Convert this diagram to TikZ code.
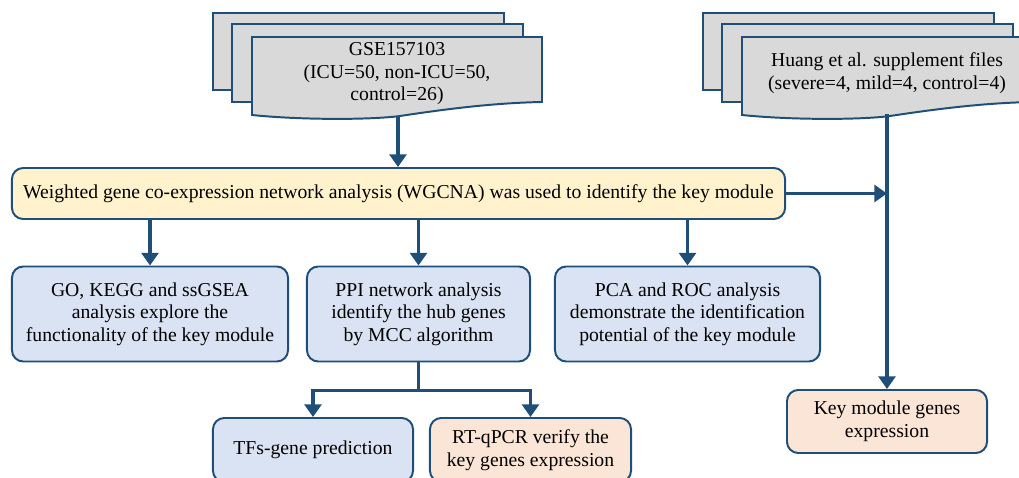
\documentclass[tikz,border=0pt]{standalone}
\usepackage{fontspec}
\setmainfont{Liberation Serif}
\usetikzlibrary{arrows.meta}

\definecolor{edgeblue}{RGB}{31,78,121}
\definecolor{boxblue}{RGB}{218,227,243}
\definecolor{boxyellow}{RGB}{255,242,204}
\definecolor{boxpeach}{RGB}{251,229,214}
\definecolor{docgray}{RGB}{217,217,217}

\tikzset{
  stepbox/.style={draw=edgeblue, line width=1.4pt, rounded corners=8pt, align=center, inner sep=2pt},
  bluebox/.style={stepbox, fill=boxblue},
  peachbox/.style={stepbox, fill=boxpeach},
  sheet/.style={draw=edgeblue, fill=docgray, line width=1.4pt},
  flow/.style={draw=edgeblue, line width=2.8pt, -{Triangle[width=12pt,length=9pt]}},
}

\begin{document}
\begin{tikzpicture}[x=0.025cm, y=-0.025cm, every node/.style={font=\fontsize{14}{16}\selectfont}]
    \clip (0,0) rectangle (1019,478);

    % stacked data files
    \foreach \dx in {0,490} {
      \begin{scope}[shift={(\dx,0)}]
        \draw[sheet] (213,13) rectangle (504,90);
        \draw[sheet] (232,24) rectangle (523,102);
        \draw[sheet] (252,37) -- (542,37) -- (542,102)
          .. controls (490,103) and (440,110) .. (400,116)
          .. controls (370,120) and (300,120) .. (252,115) -- cycle;
      \end{scope}
    }
    \node[align=center] (gse) at (397,74) {GSE157103\\(ICU=50, non-ICU=50,\\control=26)};
    \node[align=center] (huang) at (887,73) {Huang et al. supplement files\\(severe=4, mild=4, control=4)};
    \coordinate (gbot) at (398,116);
    \coordinate (hbot) at (887,114);

    % boxes
    \node[stepbox, fill=boxyellow, minimum width=19.325cm, minimum height=1.275cm] (wgcna) at (398.5,193.5)
      {Weighted gene co-expression network analysis (WGCNA) was used to identify the key module};
    \node[bluebox, minimum width=6.9cm, minimum height=2.375cm] (go) at (150,314)
      {GO, KEGG and ssGSEA\\analysis explore the\\functionality of the key module};
    \node[bluebox, minimum width=5.575cm, minimum height=2.375cm] (ppi) at (418.5,314)
      {PPI network analysis\\identify the hub genes\\by MCC algorithm};
    \node[bluebox, minimum width=6.625cm, minimum height=2.375cm] (pca) at (687.5,314)
      {PCA and ROC analysis\\demonstrate the identification\\potential of the key module};
    \node[bluebox, minimum width=5cm, minimum height=1.6cm] (tfs) at (313,450)
      {TFs-gene prediction};
    \node[peachbox, minimum width=5.025cm, minimum height=1.6cm] (rtq) at (530.5,450)
      {RT-qPCR verify the\\key genes expression};
    \node[peachbox, minimum width=5cm, minimum height=1.575cm] (keymod) at (887,421.5)
      {Key module genes\\expression};

    % connectors
    \draw[flow] (gbot) -- (gbot |- wgcna.north);
    \draw[flow] (wgcna.south -| go) -- (go.north);
    \draw[flow] (wgcna.south -| ppi) -- (ppi.north);
    \draw[flow] (wgcna.south -| pca) -- (pca.north);
    \draw[flow] (hbot) -- (keymod.north);
    \draw[flow] (wgcna.east) -- (wgcna.east -| hbot);
    \draw[flow] (ppi.south) -- ++(0,28) -| (tfs.north);
    \draw[flow] (ppi.south) -- ++(0,28) -| (rtq.north);
\end{tikzpicture}
\end{document}
